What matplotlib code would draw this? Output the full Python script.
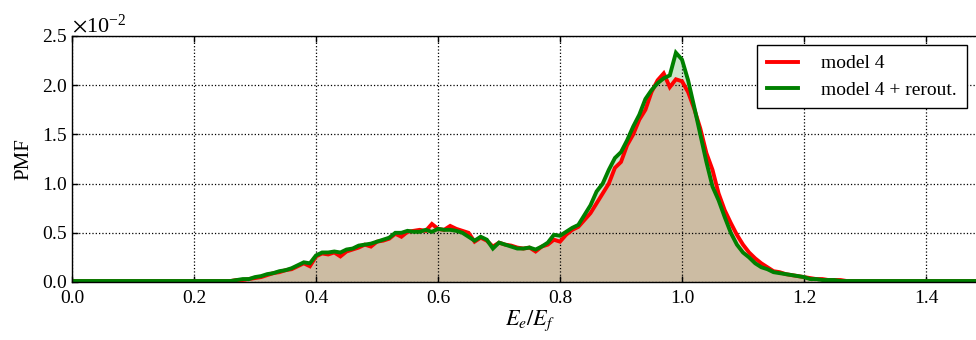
import numpy as np
import matplotlib
matplotlib.use("Agg")
import matplotlib.pyplot as plt
from matplotlib.ticker import ScalarFormatter, MultipleLocator

plt.rcParams['font.family'] = ['Liberation Serif', 'DejaVu Serif']
plt.rcParams['mathtext.fontset'] = 'stix'

# bin centres E_e/E_f
energy_ratio = np.round(np.arange(0, 150) * 0.01, 2)

pmf_model4 = [
    0.0001, 0.0001, 0.0001, 0.0001, 0.0001, 0.0001, 0.0001, 0.0001, 0.0001, 0.0001,
    0.0001, 0.0001, 0.0001, 0.0001, 0.0001, 0.0001, 0.0001, 0.0001, 0.0001, 0.0001,
    0.0001, 0.0001, 0.0001, 0.0001, 0.0001, 0.0001, 0.0001, 0.0002, 0.0002, 0.0003,
    0.0004, 0.0005, 0.0007, 0.0009, 0.0010, 0.0012, 0.0013, 0.0016, 0.0019, 0.0016,
    0.0026, 0.0029, 0.0028, 0.0030, 0.0026, 0.0031, 0.0033, 0.0035, 0.0038, 0.0036,
    0.0041, 0.0042, 0.0044, 0.0049, 0.0046, 0.0051, 0.0052, 0.0053, 0.0052, 0.0059,
    0.0054, 0.0053, 0.0057, 0.0054, 0.0052, 0.0050, 0.0041, 0.0045, 0.0042, 0.0036,
    0.0040, 0.0038, 0.0037, 0.0035, 0.0034, 0.0035, 0.0031, 0.0036, 0.0038, 0.0043,
    0.0041, 0.0048, 0.0053, 0.0056, 0.0063, 0.0070, 0.0080, 0.0090, 0.0100, 0.0116,
    0.0122, 0.0139, 0.0150, 0.0165, 0.0175, 0.0193, 0.0205, 0.0212, 0.0198, 0.0206,
    0.0204, 0.0193, 0.0176, 0.0156, 0.0131, 0.0114, 0.0090, 0.0073, 0.0060, 0.0048,
    0.0038, 0.0030, 0.0024, 0.0019, 0.0015, 0.0011, 0.0010, 0.0008, 0.0007, 0.0006,
    0.0005, 0.0004, 0.0003, 0.0003, 0.0002, 0.0002, 0.0002, 0.0001, 0.0001, 0.0001,
    0.0001, 0.0001, 0.0001, 0.0001, 0.0001, 0.0001, 0.0001, 0.0001, 0.0001, 0.0001,
    0.0001, 0.0001, 0.0001, 0.0001, 0.0001, 0.0001, 0.0001, 0.0001, 0.0001, 0.0001,
]

pmf_model4_rerout = [
    0.0001, 0.0001, 0.0001, 0.0001, 0.0001, 0.0001, 0.0001, 0.0001, 0.0001, 0.0001,
    0.0001, 0.0001, 0.0001, 0.0001, 0.0001, 0.0001, 0.0001, 0.0001, 0.0001, 0.0001,
    0.0001, 0.0001, 0.0001, 0.0001, 0.0001, 0.0001, 0.0001, 0.0002, 0.0003, 0.0003,
    0.0005, 0.0006, 0.0008, 0.0009, 0.0011, 0.0012, 0.0014, 0.0017, 0.0020, 0.0019,
    0.0027, 0.0030, 0.0030, 0.0031, 0.0030, 0.0033, 0.0034, 0.0037, 0.0038, 0.0039,
    0.0041, 0.0043, 0.0045, 0.0050, 0.0050, 0.0052, 0.0051, 0.0051, 0.0053, 0.0051,
    0.0054, 0.0053, 0.0053, 0.0052, 0.0050, 0.0046, 0.0042, 0.0046, 0.0043, 0.0034,
    0.0040, 0.0038, 0.0036, 0.0034, 0.0034, 0.0035, 0.0033, 0.0036, 0.0040, 0.0048,
    0.0047, 0.0051, 0.0055, 0.0058, 0.0068, 0.0078, 0.0092, 0.0100, 0.0114, 0.0126,
    0.0132, 0.0144, 0.0158, 0.0170, 0.0186, 0.0195, 0.0202, 0.0207, 0.0210, 0.0233,
    0.0226, 0.0205, 0.0178, 0.0150, 0.0122, 0.0097, 0.0083, 0.0066, 0.0050, 0.0038,
    0.0030, 0.0025, 0.0019, 0.0015, 0.0013, 0.0010, 0.0009, 0.0008, 0.0007, 0.0006,
    0.0005, 0.0003, 0.0003, 0.0002, 0.0002, 0.0002, 0.0001, 0.0001, 0.0001, 0.0001,
    0.0001, 0.0001, 0.0001, 0.0001, 0.0001, 0.0001, 0.0001, 0.0001, 0.0001, 0.0001,
    0.0001, 0.0001, 0.0001, 0.0001, 0.0001, 0.0001, 0.0001, 0.0001, 0.0001, 0.0001,
]

series_labels = ["model 4", "model 4 + rerout."]
series_colors = ["red", "green"]

fig = plt.figure(figsize=(9.76, 3.40), dpi=100)
ax = fig.add_axes([72 / 976, 58 / 340, 915 / 976, 246 / 340])

for vals, lab, col in zip([pmf_model4, pmf_model4_rerout], series_labels, series_colors):
    ax.fill_between(energy_ratio, vals, 0, color=col, alpha=0.2, linewidth=0)
for vals, lab, col in zip([pmf_model4, pmf_model4_rerout], series_labels, series_colors):
    ax.plot(energy_ratio, vals, color=col, lw=2.8, label=lab, solid_joinstyle='miter')

ax.set_xlim(0, 1.5)
ax.set_ylim(0, 0.025)
ax.xaxis.set_major_locator(MultipleLocator(0.2))
ax.yaxis.set_major_locator(MultipleLocator(0.005))

fmt = ScalarFormatter(useMathText=True)
fmt.set_powerlimits((-2, -2))
ax.yaxis.set_major_formatter(fmt)
ax.xaxis.set_major_formatter(plt.FormatStrFormatter('%.1f'))

ax.grid(True, linestyle=':', color='black', linewidth=0.9)
ax.tick_params(direction='in', top=True, right=True, length=4, labelsize=14, width=1, pad=3)
ax.tick_params(axis='x', pad=6)
ax.yaxis.get_offset_text().set_fontsize(16)
for s in ax.spines.values():
    s.set_linewidth(1.0)

ax.set_xlabel(r"$E_e/E_f$", fontsize=16, labelpad=1)
ax.set_ylabel("PMF", fontsize=15, labelpad=6)

leg = ax.legend(loc='upper left', bbox_to_anchor=((757 - 72) / 915, (282 - 45) / 246),
                fontsize=14, fancybox=False, edgecolor='black', framealpha=1,
                handlelength=1.6, borderpad=0.5, labelspacing=0.45, handletextpad=1.2,
                borderaxespad=0)
leg.get_frame().set_linewidth(1.0)

fig.savefig("out.png", dpi=100)
